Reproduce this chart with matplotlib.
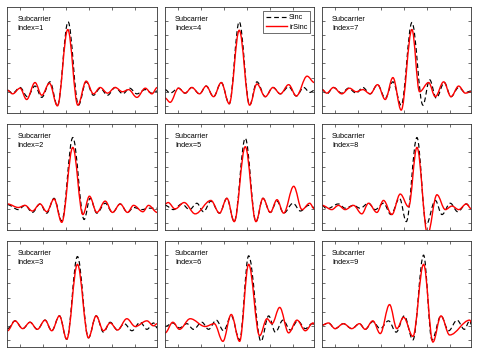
import matplotlib
matplotlib.use("Agg")
import matplotlib.pyplot as plt
from matplotlib.path import Path
from matplotlib.patches import PathPatch
from matplotlib.lines import Line2D

# local extrema (x in subcarrier-spacing units, y normalised amplitude)
sinc1_x = [0.0, 0.69, 1.68, 2.66, 3.69, 4.59, 5.70, 6.69, 8.12, 9.51, 10.54, 11.52, 12.42, 13.40, 14.43, 15.46, 16.35, 17.34, 18.46, 19.35, 20.07]
sinc1_y = [0.02, -0.02, 0.06, -0.07, 0.08, -0.08, 0.14, -0.20, 0.99, -0.19, 0.14, -0.05, 0.05, -0.05, 0.06, -0.03, 0.05, -0.03, 0.03, -0.02, 0.01]
irsinc1_x = [0.0, 0.69, 1.68, 2.57, 3.69, 4.59, 5.62, 6.69, 8.08, 9.42, 10.54, 11.52, 12.42, 13.40, 14.43, 15.41, 16.22, 17.34, 18.46, 19.35, 20.07]
irsinc1_y = [0.02, -0.03, 0.05, -0.11, 0.13, -0.05, 0.12, -0.20, 0.88, -0.19, 0.15, -0.03, 0.06, -0.02, 0.06, 0.0, 0.03, -0.08, 0.05, -0.03, 0.06]

sinc2_x = [0.0, 1.45, 2.35, 3.33, 4.36, 5.26, 6.24, 7.27, 8.75, 10.27, 11.07, 11.97, 13.09, 14.07, 15.10, 16.08, 16.89, 18.01, 18.90, 20.07]
sinc2_y = [0.06, -0.01, 0.05, -0.05, 0.07, -0.06, 0.15, -0.17, 1.01, -0.15, 0.15, -0.06, 0.08, -0.05, 0.07, -0.05, 0.02, -0.01, 0.01, 0.01]
irsinc2_x = [0.0, 1.45, 2.35, 3.33, 4.36, 5.26, 6.24, 7.27, 8.75, 10.10, 10.98, 11.97, 13.09, 14.07, 15.10, 16.08, 16.89, 18.14, 18.90, 20.07]
irsinc2_y = [0.07, 0.02, 0.05, -0.03, 0.07, -0.04, 0.14, -0.19, 0.87, -0.08, 0.18, -0.05, 0.11, -0.05, 0.07, -0.05, 0.05, -0.04, 0.05, -0.05]

sinc3_x = [0.0, 1.01, 2.04, 3.02, 4.00, 5.03, 5.93, 6.96, 7.94, 9.37, 10.85, 11.88, 12.86, 13.76, 14.74, 15.64, 16.67, 17.78, 18.68, 19.57, 20.07]
sinc3_y = [-0.04, 0.07, -0.04, 0.05, -0.05, 0.08, -0.07, 0.14, -0.19, 0.98, -0.17, 0.14, -0.09, 0.05, -0.06, 0.03, -0.07, 0.05, -0.05, 0.04, -0.03]
irsinc3_x = [0.0, 1.01, 2.04, 3.02, 4.00, 5.03, 5.93, 6.96, 7.94, 9.37, 10.85, 11.88, 12.86, 13.76, 14.74, 15.99, 17.11, 18.68, 19.57, 20.07]
irsinc3_y = [-0.07, 0.07, -0.04, 0.05, -0.05, 0.08, -0.07, 0.14, -0.19, 0.87, -0.17, 0.14, -0.07, 0.04, -0.06, 0.10, -0.01, 0.07, 0.0, 0.03]

sinc4_x = [0.0, 0.67, 1.79, 2.68, 3.58, 4.61, 5.50, 6.49, 7.52, 8.59, 9.93, 11.32, 12.30, 13.42, 14.45, 15.44, 16.55, 17.58, 18.57, 19.37, 20.0]
sinc4_y = [0.03, -0.02, 0.05, -0.02, 0.06, -0.03, 0.08, -0.07, 0.13, -0.17, 0.99, -0.19, 0.14, -0.07, 0.06, -0.03, 0.07, -0.06, 0.06, -0.01, 0.02]
irsinc4_x = [0.0, 0.67, 1.79, 2.68, 3.58, 4.61, 5.50, 6.49, 7.52, 8.59, 9.93, 11.32, 12.30, 13.42, 14.45, 15.44, 16.55, 17.58, 19.02, 20.0]
irsinc4_y = [-0.09, -0.15, 0.05, -0.02, 0.06, -0.03, 0.08, -0.07, 0.13, -0.17, 0.87, -0.19, 0.11, -0.07, 0.06, -0.03, 0.10, -0.06, 0.22, 0.13]

sinc5_x = [0.0, 1.12, 2.24, 3.27, 4.25, 5.15, 6.13, 7.29, 8.28, 9.26, 10.74, 12.17, 13.11, 14.09, 14.99, 15.88, 17.14, 18.12, 19.24, 20.0]
sinc5_y = [0.05, -0.01, 0.07, -0.01, 0.08, -0.04, 0.11, -0.06, 0.15, -0.18, 1.00, -0.18, 0.15, -0.05, 0.11, -0.06, 0.08, -0.03, 0.05, 0.02]
irsinc5_x = [0.0, 0.40, 1.34, 2.55, 4.03, 6.13, 7.29, 8.28, 9.26, 10.74, 12.17, 13.11, 14.09, 14.99, 15.88, 17.23, 18.34, 19.37, 20.0]
irsinc5_y = [0.07, 0.09, 0.0, 0.09, -0.07, 0.12, -0.06, 0.15, -0.18, 0.88, -0.18, 0.15, -0.05, 0.13, -0.06, 0.32, -0.01, 0.08, 0.0]

sinc6_x = [0.0, 1.03, 1.92, 2.91, 3.80, 4.92, 5.82, 6.85, 7.83, 8.86, 9.98, 11.19, 12.84, 13.87, 14.77, 15.79, 16.78, 17.76, 18.79, 19.69, 20.0]
sinc6_y = [-0.01, 0.04, -0.03, 0.03, -0.05, 0.05, -0.05, 0.08, -0.07, 0.14, -0.20, 0.99, -0.22, 0.14, -0.09, 0.08, -0.06, 0.07, -0.04, 0.03, 0.01]
irsinc6_x = [0.0, 1.03, 1.92, 3.36, 5.37, 6.58, 7.74, 8.86, 9.98, 11.19, 12.66, 13.65, 14.32, 15.35, 16.55, 17.67, 18.79, 19.82, 20.0]
irsinc6_y = [-0.10, 0.05, -0.05, 0.10, -0.01, 0.03, -0.22, 0.16, -0.22, 0.87, -0.14, 0.10, 0.03, 0.26, -0.10, 0.08, -0.07, 0.04, 0.02]

sinc7_x = [0.0, 0.63, 1.52, 2.64, 3.53, 4.56, 5.46, 6.44, 7.43, 8.46, 9.49, 10.60, 12.04, 13.51, 14.41, 15.30, 16.38, 17.27, 18.30, 19.19, 20.0]
sinc7_y = [0.03, -0.03, 0.06, -0.02, 0.05, -0.02, 0.06, -0.03, 0.10, -0.09, 0.14, -0.19, 0.98, -0.19, 0.17, -0.09, 0.13, -0.07, 0.06, -0.01, 0.01]
irsinc7_x = [0.0, 0.63, 1.52, 2.64, 3.67, 4.56, 5.46, 6.44, 7.43, 8.46, 9.49, 10.60, 12.04, 13.06, 14.27, 15.17, 16.29, 17.27, 18.30, 19.19, 20.0]
irsinc7_y = [0.03, -0.02, 0.06, -0.03, 0.05, 0.0, 0.03, -0.03, 0.10, -0.11, 0.20, -0.26, 0.88, 0.0, 0.13, -0.07, 0.14, -0.07, 0.08, -0.02, 0.0]

sinc8_x = [0.0, 0.63, 2.19, 3.09, 4.21, 5.10, 6.22, 7.11, 8.23, 9.22, 10.38, 11.28, 12.71, 13.96, 15.17, 16.06, 17.18, 18.17, 19.33, 20.0]
sinc8_y = [0.05, 0.0, 0.07, 0.01, 0.05, 0.01, 0.08, -0.01, 0.08, -0.08, 0.15, -0.18, 1.01, -0.22, 0.12, -0.08, 0.08, -0.04, 0.07, 0.01]
irsinc8_x = [0.0, 1.30, 2.19, 3.09, 4.21, 5.32, 6.22, 7.34, 8.23, 9.35, 10.47, 11.59, 12.71, 14.14, 15.39, 16.51, 17.40, 18.30, 19.33, 20.0]
irsinc8_y = [0.05, -0.01, 0.05, -0.01, 0.05, -0.07, 0.08, -0.05, 0.12, -0.08, 0.21, 0.03, 0.87, -0.36, 0.20, -0.01, 0.04, -0.01, 0.07, 0.0]

sinc9_x = [0.0, 0.85, 1.74, 2.86, 3.98, 5.01, 5.77, 6.80, 7.79, 8.90, 9.93, 11.01, 12.17, 13.60, 14.72, 15.93, 16.96, 18.08, 19.06, 19.78, 20.0]
sinc9_y = [0.01, 0.04, -0.04, 0.03, -0.04, 0.03, -0.05, 0.06, -0.04, 0.07, -0.09, 0.14, -0.20, 1.00, -0.20, 0.14, -0.07, 0.08, -0.05, 0.07, 0.02]
irsinc9_x = [0.0, 0.85, 1.74, 2.86, 3.98, 5.01, 5.77, 6.80, 7.79, 9.04, 10.02, 10.92, 12.17, 13.60, 14.85, 15.93, 17.09, 19.78, 20.0]
irsinc9_y = [0.01, 0.04, -0.04, 0.03, -0.04, 0.03, -0.05, 0.07, -0.11, 0.30, -0.04, 0.12, -0.15, 0.87, -0.23, 0.14, -0.13, 0.08, 0.05]

# panels in reading order of the figure (column-major indices)
panel_index = [1, 4, 7, 2, 5, 8, 3, 6, 9]
sinc_x = {1: sinc1_x, 2: sinc2_x, 3: sinc3_x, 4: sinc4_x, 5: sinc5_x, 6: sinc6_x, 7: sinc7_x, 8: sinc8_x, 9: sinc9_x}
sinc_y = {1: sinc1_y, 2: sinc2_y, 3: sinc3_y, 4: sinc4_y, 5: sinc5_y, 6: sinc6_y, 7: sinc7_y, 8: sinc8_y, 9: sinc9_y}
irs_x = {1: irsinc1_x, 2: irsinc2_x, 3: irsinc3_x, 4: irsinc4_x, 5: irsinc5_x, 6: irsinc6_x, 7: irsinc7_x, 8: irsinc8_x, 9: irsinc9_x}
irs_y = {1: irsinc1_y, 2: irsinc2_y, 3: irsinc3_y, 4: irsinc4_y, 5: irsinc5_y, 6: irsinc6_y, 7: irsinc7_y, 8: irsinc8_y, 9: irsinc9_y}


def smooth_path(xs, ys, a=0.36):
    # cubic bezier through the extrema, flat tangent at each one
    verts = [(xs[0], ys[0])]
    codes = [Path.MOVETO]
    for i in range(len(xs) - 1):
        dx = xs[i + 1] - xs[i]
        verts += [(xs[i] + a * dx, ys[i]), (xs[i + 1] - a * dx, ys[i + 1]), (xs[i + 1], ys[i + 1])]
        codes += [Path.CURVE4] * 3
    return Path(verts, codes)


plt.rcParams['font.family'] = ['Liberation Sans', 'DejaVu Sans']
fig = plt.figure(figsize=(4.8, 3.54), dpi=100)

lefts = [0.0156, 0.344, 0.671]
bottoms = [0.681, 0.350, 0.0198]
w, h = 0.311, 0.2994
dash = (0, (4, 2.5))

for n, idx in enumerate(panel_index):
    r, c = n // 3, n % 3
    ax = fig.add_axes([lefts[c], bottoms[r], w, h])
    ax.add_patch(PathPatch(smooth_path(sinc_x[idx], sinc_y[idx]), fill=False,
                           edgecolor='k', lw=0.85, linestyle=dash))
    ax.add_patch(PathPatch(smooth_path(irs_x[idx], irs_y[idx]), fill=False,
                           edgecolor='#ff0000', lw=1.0))
    ax.set_xlim(0, 20)
    ax.set_ylim(-0.3, 1.2)
    ax.set_xticks([1.7, 4.8, 7.9, 10.95, 14.0, 17.1])
    ax.set_yticks([-0.2, 0, 0.2, 0.4, 0.6, 0.8, 1.0])
    ax.tick_params(direction='in', length=2, width=0.5, color='#333333',
                   top=True, right=True, labelbottom=False, labelleft=False)
    for sp in ax.spines.values():
        sp.set_linewidth(0.6)
        sp.set_color('#333333')
    ax.text(0.066, 0.915, 'Subcarrier\nIndex=%d' % idx, transform=ax.transAxes,
            va='top', ha='left', fontsize=5.3, linespacing=1.45)
    if idx == 4:
        handles = [Line2D([], [], color='k', lw=0.85, linestyle=dash),
                   Line2D([], [], color='#ff0000', lw=1.0)]
        leg = ax.legend(handles, ['Sinc', 'irSinc'], loc='upper right', fontsize=5.3,
                        handlelength=2.9, handletextpad=0.25, borderaxespad=0.6,
                        borderpad=0.35, labelspacing=0.35, fancybox=False,
                        framealpha=1, edgecolor='#333333')
        leg.get_frame().set_linewidth(0.5)

fig.savefig('out.png', dpi=100)
